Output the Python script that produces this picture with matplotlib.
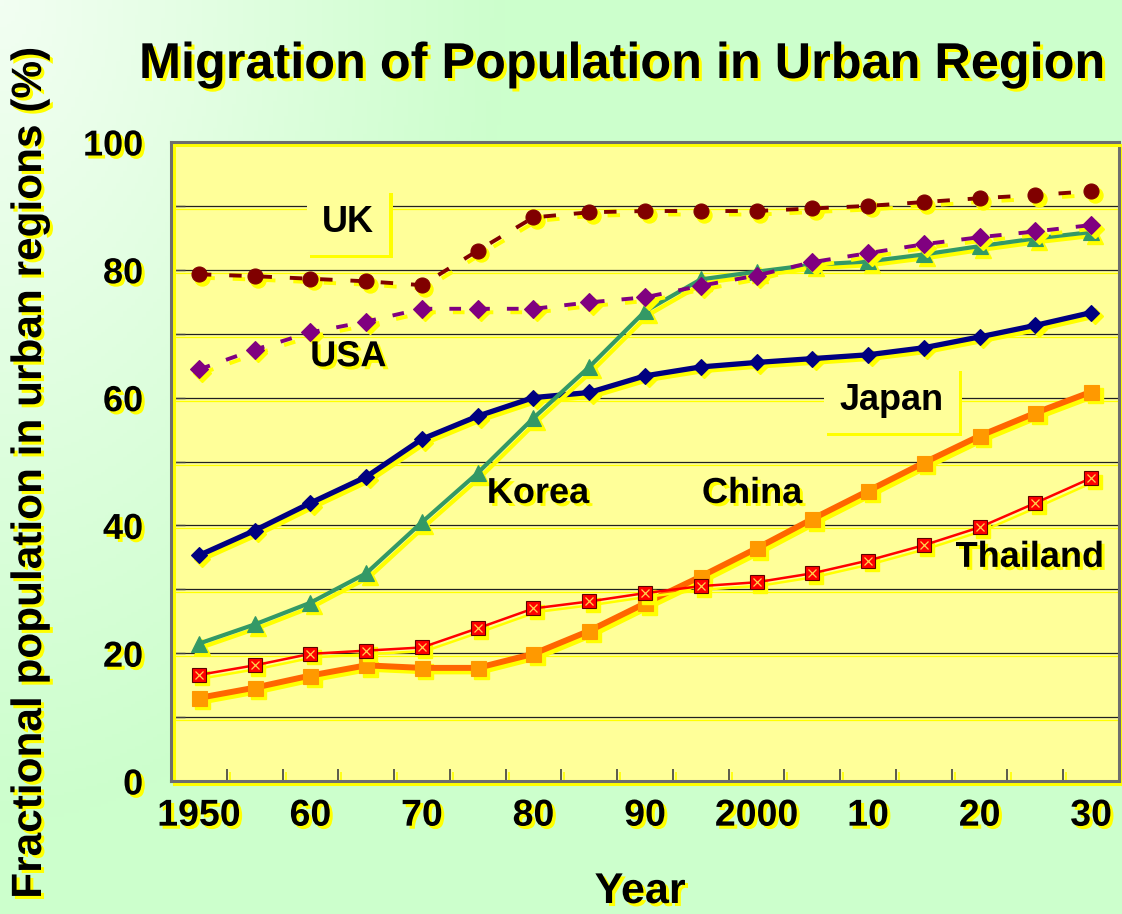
import numpy as np
import matplotlib
matplotlib.use("Agg")
import matplotlib.pyplot as plt
import matplotlib.patheffects as pe
from matplotlib.transforms import offset_copy

# ---------------- data ----------------
years = list(range(1950, 2031, 5))
uk = [79.3, 79.0, 78.6, 78.2, 77.6, 83.0, 88.2, 89.0, 89.2, 89.2, 89.2, 89.6, 90.0, 90.6, 91.2, 91.7, 92.3]
usa = [64.4, 67.5, 70.2, 71.9, 73.9, 73.9, 73.9, 74.9, 75.7, 77.5, 79.1, 81.2, 82.6, 84.0, 85.1, 86.0, 87.0]
korea = [21.5, 24.5, 27.9, 32.5, 40.5, 48.2, 56.8, 64.8, 73.5, 78.5, 79.7, 80.8, 81.3, 82.4, 83.7, 84.9, 85.9]
japan = [35.3, 39.2, 43.5, 47.6, 53.5, 57.1, 60.0, 60.8, 63.4, 64.8, 65.5, 66.1, 66.7, 67.8, 69.5, 71.3, 73.3]
china = [13.0, 14.6, 16.5, 18.1, 17.7, 17.7, 19.9, 23.5, 27.8, 32.0, 36.4, 41.0, 45.4, 49.8, 54.0, 57.6, 60.9]
thailand = [16.6, 18.1, 19.9, 20.4, 20.9, 23.9, 27.0, 28.1, 29.4, 30.5, 31.1, 32.5, 34.5, 36.9, 39.7, 43.5, 47.4]

xtick_years = [1950, 1960, 1970, 1980, 1990, 2000, 2010, 2020, 2030]
xtick_labels = ["1950", "60", "70", "80", "90", "2000", "10", "20", "30"]
ytick_values = list(range(0, 101, 10))
ytick_labels = ["0", "", "20", "", "40", "", "60", "", "80", "", "100"]

title = "Migration of Population in Urban Region"
xlabel = "Year"
ylabel = "Fractional population in urban regions (%)"

# ---------------- style ----------------
BOLD = ["Liberation Sans", "DejaVu Sans"]
SHADOW = "#ffff00"
PLOT_BG = "#ffff99"

W, H, DPI = 1122, 914, 100
fig = plt.figure(figsize=(W / DPI, H / DPI), dpi=DPI)

# background gradient
bg = fig.add_axes([0, 0, 1, 1], zorder=-10)
gx, gy = np.meshgrid(np.linspace(0, 1, 300), np.linspace(0, 1, 300))
t = np.clip(np.sqrt((gx / 0.45) ** 2 + (gy / 0.9) ** 2), 0, 1)
c0 = np.array([0.95, 0.998, 0.95])
c1 = np.array([0.80, 1.0, 0.80])
img = c0[None, None, :] * (1 - t[..., None]) + c1[None, None, :] * t[..., None]
bg.imshow(img, aspect="auto", extent=[0, 1, 0, 1], origin="upper")
bg.set_axis_off()

ax = fig.add_axes([171 / W, (H - 781) / H, 948 / W, 639 / H])
ax.set_facecolor(PLOT_BG)
ax.set_xlim(1947.5, 2032.5)
ax.set_ylim(0, 100)
ax.set_axisbelow(True)

txt_shadow = [pe.withSimplePatchShadow(offset=(2.2, -2.2), shadow_rgbFace=SHADOW, alpha=1.0)]
line_shadow = [pe.SimpleLineShadow(offset=(2.2, -2.2), shadow_color=SHADOW, alpha=1.0), pe.Normal()]

# grid
ax.set_yticks(ytick_values, ytick_labels)
ax.yaxis.grid(True, color="#202020", lw=0.9)
for gl in ax.get_ygridlines():
    gl.set_path_effects(line_shadow)

# x ticks: labels at category centres, tick marks between categories
ax.set_xticks(xtick_years, xtick_labels)
ax.set_xticks([y + 2.5 for y in years[:-1]], minor=True)
ax.tick_params(axis="x", which="major", length=0, pad=12)
ax.tick_params(axis="x", which="minor", direction="in", length=9, width=1.2, color="#404040")
ax.tick_params(axis="y", which="major", direction="in", length=10, width=1.0, color="#404040", pad=20)
for tl in ax.get_xticklabels() + ax.get_yticklabels():
    tl.set_fontfamily(BOLD)
    tl.set_fontweight("bold")
    tl.set_path_effects(txt_shadow)
for tl in ax.get_xticklabels():
    tl.set_fontsize(27)
for tl in ax.get_yticklabels():
    tl.set_fontsize(26)
for tk in ax.xaxis.get_minor_ticks():
    tk.tick1line.set_path_effects(line_shadow)

for s in ax.spines.values():
    s.set_color("#6e6e6e")
    s.set_linewidth(2.2)
    s.set_path_effects(line_shadow)

# series (each drawn with a yellow offset shadow)
shadow_tr = offset_copy(ax.transData, fig=fig, x=3.5, y=-3.5, units="dots")
series = [
    dict(v=japan, c="#000080", mfc="#000080", m="D", ms=8.6, lw=3.8, ls="-"),
    dict(v=korea, c="#339966", mfc="#339966", m="^", ms=12.0, lw=3.0, ls="-"),
    dict(v=china, c="#ff6600", mfc="#ff9900", m="s", ms=10.8, lw=4.3, ls="-"),
    dict(v=thailand, c="#ff0000", mfc="#ff0000", m="s", ms=9.4, lw=1.8, ls="-"),
    dict(v=uk, c="#800000", mfc="#800000", m="o", ms=10.8, lw=2.8, ls=(0, (3.2, 4.6))),
    dict(v=usa, c="#800080", mfc="#800080", m="D", ms=9.4, lw=2.8, ls=(0, (3.0, 4.4))),
]
z = 3
for s in series:
    ax.plot(years, s["v"], color=SHADOW, lw=s["lw"], ls=s["ls"], marker=s["m"], ms=s["ms"],
            mfc=SHADOW, mec=SHADOW, transform=shadow_tr, zorder=z, solid_capstyle="butt")
    ax.plot(years, s["v"], color=s["c"], lw=s["lw"], ls=s["ls"], marker=s["m"], ms=s["ms"],
            mfc=s["mfc"], mec=s["mfc"] if s["v"] is not thailand else "#600000",
            mew=0.8, zorder=z + 1, solid_capstyle="butt")
    if s["v"] is thailand:
        ax.plot(years, s["v"], ls="none", marker="x", ms=5.5, mew=0.9, color="#ffd24d", zorder=z + 1.5)
    z += 2

# series labels
lab_kw = dict(fontsize=26, fontweight="bold", family=BOLD, ha="center", va="center", zorder=20)
boxed = []
boxed.append(ax.text(1963.4, 87.4, "UK", bbox=dict(boxstyle="square,pad=0.42", fc=PLOT_BG, ec="none"), **lab_kw))
ax.text(1963.4, 66.4, "USA", path_effects=txt_shadow, **lab_kw)
boxed.append(ax.text(2012.1, 59.6, "Japan", bbox=dict(boxstyle="square,pad=0.42", fc=PLOT_BG, ec="none"), **lab_kw))
ax.text(1980.4, 45.0, "Korea", path_effects=txt_shadow, **lab_kw)
ax.text(1999.6, 45.0, "China", path_effects=txt_shadow, **lab_kw)
ax.text(2024.5, 35.0, "Thailand", path_effects=txt_shadow, **lab_kw)
for tb in boxed:
    tb.get_bbox_patch().set_path_effects(
        [pe.SimplePatchShadow(offset=(2.2, -2.2), shadow_rgbFace=SHADOW, alpha=1.0), pe.Normal()])

# titles
fig.text(139 / W, 1 - 78 / H, title, fontsize=36.3, fontweight="bold", family=BOLD,
         ha="left", va="baseline", path_effects=txt_shadow)
fig.text(640 / W, 2 / H, xlabel, fontsize=31, fontweight="bold", family=BOLD,
         ha="center", va="bottom", path_effects=txt_shadow)
fig.text(30 / W, 1 - 472 / H, ylabel, fontsize=30.5, fontweight="bold", family=BOLD,
         rotation=90, ha="center", va="center", path_effects=txt_shadow)

fig.savefig("out.png", dpi=DPI)
